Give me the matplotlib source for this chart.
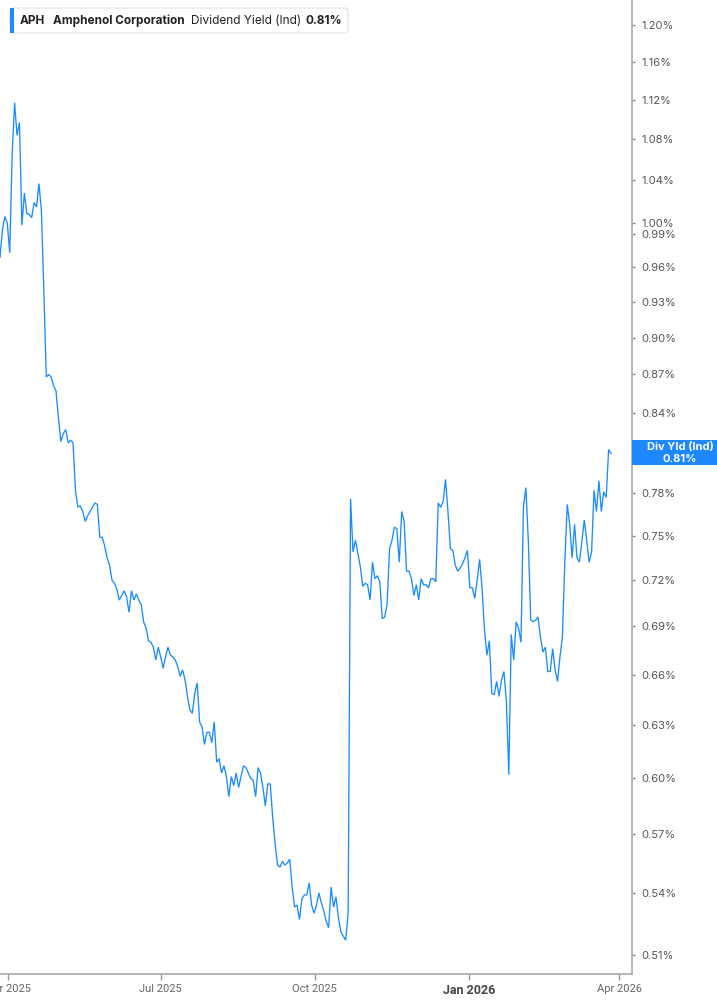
import matplotlib
matplotlib.use("Agg")
import matplotlib.pyplot as plt
import matplotlib.dates as mdates
from matplotlib.patches import FancyBboxPatch, Rectangle
import pandas as pd
import numpy as np

# ---- data (dividend yield, %) ----
start_date = "2025-03-27"
end_date = "2026-03-27"
yield_pct = [
    0.969, 0.994, 1.006, 1.000, 0.973, 1.066, 1.117, 1.084, 1.097, 0.998,
    1.028, 1.009, 1.008, 1.005, 1.019, 1.015, 1.037, 1.012, 0.940, 0.868,
    0.870, 0.868, 0.861, 0.857, 0.836, 0.818, 0.824, 0.827, 0.817, 0.819,
    0.817, 0.782, 0.770, 0.771, 0.767, 0.760, 0.764, 0.767, 0.770, 0.773,
    0.772, 0.749, 0.749,
    0.743, 0.735, 0.730, 0.720, 0.718, 0.714, 0.707, 0.710, 0.713, 0.709,
    0.699, 0.713, 0.707, 0.711, 0.707, 0.704, 0.693, 0.689, 0.681, 0.680,
    0.677, 0.669, 0.677, 0.671, 0.664, 0.671, 0.677, 0.672, 0.671, 0.669,
    0.665, 0.659, 0.663, 0.657, 0.647, 0.639, 0.637, 0.649, 0.655, 0.632,
    0.629, 0.619, 0.626, 0.626, 0.620, 0.632, 0.609, 0.611, 0.603, 0.607,
    0.601, 0.590, 0.601, 0.596, 0.603, 0.595, 0.601, 0.607, 0.606, 0.603,
    0.600, 0.599, 0.590, 0.606, 0.603, 0.595, 0.585, 0.597, 0.597, 0.579,
    0.565, 0.554, 0.553, 0.556, 0.554, 0.555, 0.557, 0.543, 0.533, 0.534,
    0.527, 0.537, 0.539, 0.539, 0.545, 0.534, 0.530, 0.534, 0.540, 0.535,
    0.531, 0.526, 0.523, 0.543, 0.533, 0.538, 0.528, 0.521, 0.519, 0.517,
    0.530,
    0.776, 0.739, 0.747, 0.738, 0.729, 0.716, 0.718, 0.717, 0.707, 0.732,
    0.721, 0.723, 0.719, 0.695, 0.696, 0.704, 0.741, 0.747, 0.756, 0.755,
    0.732, 0.767, 0.760, 0.726, 0.726, 0.721, 0.710, 0.717, 0.707, 0.721,
    0.717, 0.717, 0.715, 0.721, 0.721, 0.719, 0.773, 0.770, 0.774, 0.790,
    0.767, 0.741, 0.740, 0.730, 0.726, 0.728, 0.731, 0.735, 0.740, 0.715,
    0.715, 0.708, 0.720, 0.734, 0.715, 0.688, 0.672, 0.681, 0.649, 0.648,
    0.656, 0.647, 0.657, 0.662, 0.644, 0.602, 0.685, 0.669, 0.693, 0.689,
    0.680, 0.770, 0.784, 0.747, 0.694, 0.693, 0.694, 0.696, 0.683, 0.674,
    0.677, 0.662, 0.662, 0.676, 0.663, 0.656, 0.671, 0.683, 0.732, 0.772,
    0.758, 0.735, 0.758, 0.735, 0.732, 0.746, 0.761, 0.747, 0.732, 0.739,
    0.782, 0.767, 0.789, 0.767, 0.781, 0.777, 0.812, 0.809,
]
ytick_values = [0.51, 0.54, 0.57, 0.60, 0.63, 0.66, 0.69, 0.72, 0.75, 0.78,
                0.81, 0.84, 0.87, 0.90, 0.93, 0.96, 0.99, 1.00, 1.04, 1.08,
                1.12, 1.16, 1.20]
xtick_dates = ["2025-04-01", "2025-07-01", "2025-10-01", "2026-01-01", "2026-04-01"]
xtick_labels = ["Apr 2025", "Jul 2025", "Oct 2025", "Jan 2026", "Apr 2026"]
ticker = "APH"
company = "Amphenol Corporation"
metric = "Dividend Yield (Ind)"
last_value = 0.81
last_label = "0.81%"
badge_title = "Div Yld (Ind)"

dates = pd.date_range(start_date, end_date, periods=len(yield_pct))

W, H = 717, 1005
fig = plt.figure(figsize=(W / 100, H / 100), dpi=100)
ax = fig.add_axes([0, 31 / H, 632 / W, 974 / H])

line_color = "#1a8cff"
ax.plot(dates, yield_pct, color=line_color, lw=0.95, solid_joinstyle="miter")

ax.set_yscale("log")
ax.set_ylim(0.5012, 1.2278)
ax.set_xlim(pd.Timestamp("2025-03-27"), pd.Timestamp("2026-04-08 12:00"))

ax.yaxis.tick_right()
ax.set_yticks(ytick_values)
# the 0.81% tick label sits underneath the last-value badge, so it is left blank
ax.set_yticklabels(["" if abs(v - last_value) < 1e-9 else f"{v:.2f}%"
                    for v in ytick_values])
ax.yaxis.set_minor_locator(matplotlib.ticker.NullLocator())
ax.tick_params(axis="y", which="major", direction="out", length=2.5, width=1,
               color="#888888", labelcolor="#555555", labelsize=8, pad=4)
for lbl in ax.get_yticklabels():
    lbl.set_fontfamily("Inter")

ax.set_xticks([pd.Timestamp(d) for d in xtick_dates])
ax.set_xticklabels(xtick_labels)
ax.tick_params(axis="x", direction="out", length=4, width=1, color="#999999",
               labelcolor="#666666", labelsize=8, pad=3)
for lbl in ax.get_xticklabels():
    lbl.set_fontfamily("Roboto")
    if lbl.get_text() == "Jan 2026":
        lbl.set_fontweight("bold")
        lbl.set_color("#444444")
        lbl.set_fontsize(9)

for s in ("left", "top"):
    ax.spines[s].set_visible(False)
for s in ("right", "bottom"):
    ax.spines[s].set_color("#b0b0b0")
    ax.spines[s].set_linewidth(1.3)
ax.set_facecolor("white")

# ---- legend box at top-left ----
def fx(px):
    return px / W

def fy(py):
    return 1 - py / H

box = FancyBboxPatch((fx(10), fy(33)), fx(348) - fx(10), fy(8) - fy(33),
                     boxstyle="round,pad=0,rounding_size=0.004",
                     transform=fig.transFigure, facecolor="white",
                     edgecolor="#e2e2e2", lw=0.8, zorder=5)
fig.patches.append(box)
bar = Rectangle((fx(10), fy(33)), fx(13.5) - fx(10), fy(8) - fy(33),
                transform=fig.transFigure, facecolor=line_color,
                edgecolor="none", zorder=6)
fig.patches.append(bar)
ty = fy(21)
fig.text(fx(20), ty, ticker, fontsize=8.5, fontweight="bold", color="#222222",
         family="Inter", va="center", ha="left", zorder=7)
fig.text(fx(53), ty, company, fontsize=8.5, fontweight="bold", color="#222222",
         family="Inter", va="center", ha="left", zorder=7)
fig.text(fx(191), ty, metric, fontsize=8.5, color="#222222",
         family="Inter", va="center", ha="left", zorder=7)
fig.text(fx(306), ty, last_label, fontsize=8.5, fontweight="bold", color="#222222",
         family="Inter", va="center", ha="left", zorder=7)

# ---- badge on right axis ----
badge = Rectangle((fx(632), fy(465)), fx(717) - fx(632), fy(440) - fy(465),
                  transform=fig.transFigure, facecolor="#1e88ff",
                  edgecolor="none", zorder=8)
fig.patches.append(badge)
fig.text(fx(680), fy(447), badge_title, fontsize=8, fontweight="bold",
         color="white", family="Inter", ha="center", va="center", zorder=9)
fig.text(fx(680), fy(459), last_label, fontsize=8, fontweight="bold",
         color="white", family="Inter", ha="center", va="center", zorder=9)

fig.savefig("out.png", dpi=100, facecolor="white")
